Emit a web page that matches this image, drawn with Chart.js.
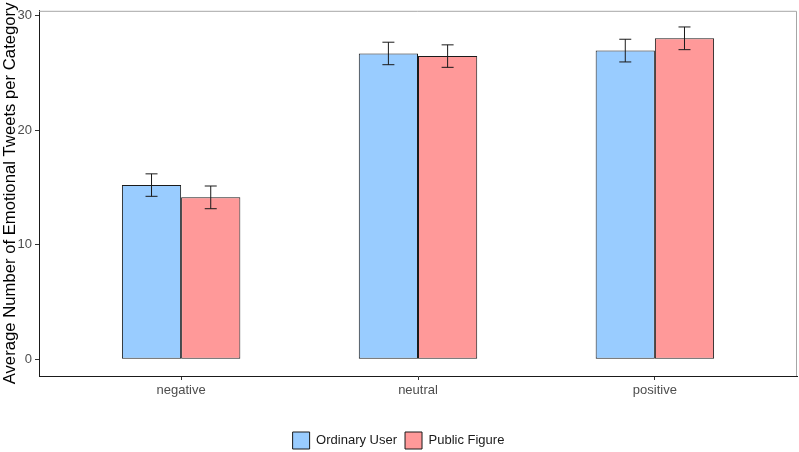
<!DOCTYPE html>
<html>
<head>
<meta charset="utf-8">
<script src="https://cdn.jsdelivr.net/npm/chart.js@4/dist/chart.umd.min.js"></script>
<style>
  html, body { margin: 0; padding: 0; background: #fff; }
  #wrap { width: 799px; height: 452px; }
</style>
</head>
<body>
<div id="wrap"><canvas id="graphique"></canvas></div>
<script>
// Catégories et valeurs
const categories = ["negative", "neutral", "positive"];
const seriesNames = ["Ordinary User", "Public Figure"];
const ordinaryMeans = [15.2, 26.68, 26.93];
const ordinarySE = [0.98, 0.98, 0.99];
const publicMeans = [14.13, 26.45, 28.0];
const publicSE = [0.99, 0.98, 0.99];
const yTicks = [0, 10, 20, 30];

const fontFamily = "'Liberation Sans', Arial, sans-serif";

// Barres d'erreur dessinées à partir des données
const errorBars = {
    id: "errorBars",
    afterDatasetsDraw(chart) {
        const ctx = chart.ctx;
        const yScale = chart.scales.y;
        chart.data.datasets.forEach((ds, i) => {
            const meta = chart.getDatasetMeta(i);
            meta.data.forEach((bar, j) => {
                const m = ds.data[j].y;
                const se = ds.errors[j];
                const top = yScale.getPixelForValue(m + se);
                const bottom = yScale.getPixelForValue(m - se);
                const x = bar.x;
                ctx.save();
                ctx.strokeStyle = "#1a1a1a";
                ctx.lineWidth = 1;
                ctx.beginPath();
                ctx.moveTo(x, top); ctx.lineTo(x, bottom);
                ctx.moveTo(x - 6, top); ctx.lineTo(x + 6, top);
                ctx.moveTo(x - 6, bottom); ctx.lineTo(x + 6, bottom);
                ctx.stroke();
                ctx.restore();
            });
        });
    }
};

// Bordure grise du panneau (haut et droite)
const panelBorder = {
    id: "panelBorder",
    afterDraw(chart) {
        const { ctx, chartArea } = chart;
        ctx.save();
        ctx.strokeStyle = "#a6a6a6";
        ctx.lineWidth = 1;
        ctx.beginPath();
        ctx.moveTo(chartArea.left, chartArea.top + 0.5);
        ctx.lineTo(chartArea.right - 0.5, chartArea.top + 0.5);
        ctx.lineTo(chartArea.right - 0.5, chartArea.bottom);
        ctx.stroke();
        ctx.restore();
    }
};

const data = {
    datasets: [{
        label: seriesNames[0],
        data: ordinaryMeans.map((v, i) => ({ x: i, y: v })),
        errors: ordinarySE,
        backgroundColor: "#99CCFF",
        borderColor: "#1a1a1a",
        borderWidth: 1,
        borderSkipped: false
    }, {
        label: seriesNames[1],
        data: publicMeans.map((v, i) => ({ x: i, y: v })),
        errors: publicSE,
        backgroundColor: "#FF9999",
        borderColor: "#1a1a1a",
        borderWidth: 1,
        borderSkipped: false
    }]
};

const config = {
    type: "bar",
    data: data,
    plugins: [errorBars, panelBorder],
    options: {
        responsive: true,
        maintainAspectRatio: false,
        animation: false,
        layout: { padding: { top: 8, right: 2, left: 0, bottom: -7 } },
        datasets: { bar: { categoryPercentage: 0.5, barPercentage: 1.0 } },
        plugins: {
            tooltip: { enabled: false },
            legend: {
                position: "bottom",
                labels: {
                    font: { family: fontFamily, size: 13 },
                    color: "#1a1a1a",
                    boxWidth: 17,
                    boxHeight: 17,
                    padding: 8
                }
            }
        },
        scales: {
            x: {
                type: "linear",
                min: -0.6,
                max: 2.6,
                offset: false,
                afterBuildTicks: (scale) => {
                    scale.ticks = categories.map((c, i) => ({ value: i }));
                },
                afterFit: (scale) => { scale.height = 48; },
                ticks: {
                    callback: (v) => categories[v],
                    font: { family: fontFamily, size: 13 },
                    color: "#4d4d4d",
                    padding: 3,
                    maxRotation: 0,
                    autoSkip: false
                },
                grid: { offset: false, drawOnChartArea: false, drawTicks: true, tickLength: 4, color: "#333" },
                border: { display: true, color: "#1a1a1a", width: 1 }
            },
            y: {
                min: -1.45,
                max: 30.4,
                afterBuildTicks: (scale) => {
                    scale.ticks = yTicks.map(v => ({ value: v }));
                },
                afterFit: (scale) => { scale.width = 39; },
                ticks: {
                    font: { family: fontFamily, size: 13 },
                    color: "#4d4d4d",
                    padding: 3
                },
                grid: { drawOnChartArea: false, drawTicks: true, tickLength: 4, color: "#333" },
                border: { display: true, color: "#1a1a1a", width: 1 },
                title: {
                    display: true,
                    text: "Average Number of Emotional Tweets per Category",
                    font: { family: fontFamily, size: 16.7 },
                    color: "#000",
                    padding: { top: 0, bottom: 0 }
                }
            }
        }
    }
};

new Chart(document.getElementById("graphique"), config);
</script>
</body>
</html>
